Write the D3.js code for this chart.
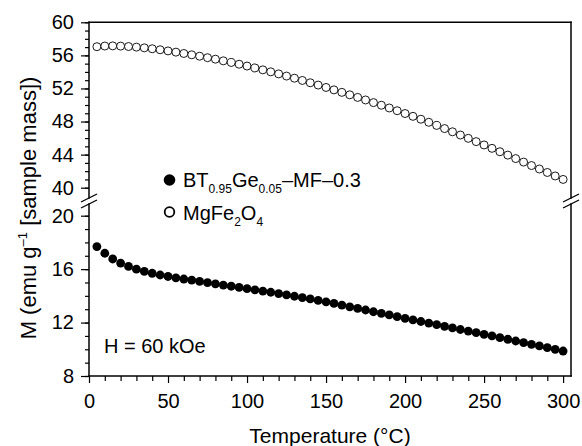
<!DOCTYPE html>
<html>
<head>
<meta charset="utf-8">
<script src="https://cdn.jsdelivr.net/npm/d3@7"></script>
<style>
  body { margin: 0; background: #fff; }
  svg { font-family: Arial, 'Liberation Sans', sans-serif; }
</style>
</head>
<body>
<div id="chart"></div>
<script>
var temperatures = [
  5, 10, 15, 20, 25, 30, 35, 40, 45, 50,
  55, 60, 65, 70, 75, 80, 85, 90, 95, 100,
  105, 110, 115, 120, 125, 130, 135, 140, 145, 150,
  155, 160, 165, 170, 175, 180, 185, 190, 195, 200,
  205, 210, 215, 220, 225, 230, 235, 240, 245, 250,
  255, 260, 265, 270, 275, 280, 285, 290, 295, 300
];

// MgFe2O4, open circles (upper panel)
var mgFe2O4 = [
  57.05, 57.13, 57.15, 57.12, 57.07, 57.0, 56.91, 56.8, 56.68, 56.54,
  56.39, 56.23, 56.07, 55.9, 55.72, 55.54, 55.34, 55.14, 54.93, 54.71,
  54.48, 54.25, 54.01, 53.76, 53.5, 53.24, 52.97, 52.69, 52.41, 52.12,
  51.83, 51.53, 51.23, 50.92, 50.61, 50.29, 49.97, 49.64, 49.31, 48.97,
  48.63, 48.28, 47.91, 47.53, 47.15, 46.76, 46.37, 45.97, 45.57, 45.17,
  44.76, 44.35, 43.94, 43.52, 43.1, 42.68, 42.26, 41.84, 41.42, 41.0
];

// BT0.95Ge0.05-MF-0.3, filled circles (lower panel)
var composite = [
  17.69, 17.19, 16.76, 16.45, 16.2, 16.0, 15.83, 15.69, 15.56, 15.45,
  15.35, 15.26, 15.17, 15.08, 14.99, 14.9, 14.81, 14.72, 14.63, 14.54,
  14.45, 14.36, 14.27, 14.17, 14.07, 13.97, 13.87, 13.77, 13.66, 13.55,
  13.43, 13.3, 13.18, 13.06, 12.94, 12.81, 12.69, 12.57, 12.44, 12.32,
  12.2, 12.08, 11.96, 11.84, 11.72, 11.6, 11.48, 11.36, 11.24, 11.12,
  11.0, 10.87, 10.75, 10.62, 10.5, 10.37, 10.25, 10.12, 10.0, 9.87
];

var xTicks = [0, 50, 100, 150, 200, 250, 300];
var xMinorTicks = [10, 20, 30, 40, 60, 70, 80, 90, 110, 120, 130, 140, 160, 170, 180, 190,
  210, 220, 230, 240, 260, 270, 280, 290];
var upperTicks = [40, 44, 48, 52, 56, 60];
var lowerTicks = [8, 12, 16, 20];

var width = 582;
var height = 446;
// note: "top" is a read-only global in browsers, so use plot* names
var plotLeft = 89, plotRight = 571, plotTop = 22.3, plotBottom = 376;
var breakY = 201;

var svg = d3.select('#chart')
  .append('svg')
  .attr('width', width)
  .attr('height', height);

var x = d3.scaleLinear().domain([0, 305]).range([plotLeft, plotRight]);
var yUpper = d3.scaleLinear().domain([40, 60]).range([187.7, plotTop]);
var yLower = d3.scaleLinear().domain([8, 20]).range([plotBottom, 215.7]);

function minorValues(scale) {
  var dom = scale.domain();
  return d3.range(dom[0], dom[1] + 1, 1);
}

function styleAxis(g) {
  g.select('.domain').remove();
  g.selectAll('line').attr('stroke', '#000').attr('stroke-width', 1.2);
  g.selectAll('text').attr('font-size', 20).attr('fill', '#000')
    .attr('font-family', "Arial, 'Liberation Sans', sans-serif");
}

// minor y ticks
[yUpper, yLower].forEach(function (scale) {
  svg.append('g')
    .attr('transform', 'translate(' + plotLeft + ',0)')
    .call(d3.axisLeft(scale).tickValues(minorValues(scale)).tickFormat('').tickSize(4).tickSizeOuter(0))
    .call(styleAxis);
});

// major y ticks
svg.append('g')
  .attr('transform', 'translate(' + plotLeft + ',0)')
  .call(d3.axisLeft(yUpper).tickValues(upperTicks).tickSize(8).tickPadding(7).tickSizeOuter(0))
  .call(styleAxis);

svg.append('g')
  .attr('transform', 'translate(' + plotLeft + ',0)')
  .call(d3.axisLeft(yLower).tickValues(lowerTicks).tickSize(8).tickPadding(7).tickSizeOuter(0))
  .call(styleAxis);

// x ticks
svg.append('g')
  .attr('transform', 'translate(0,' + plotBottom + ')')
  .call(d3.axisBottom(x).tickValues(xMinorTicks).tickFormat('').tickSize(5).tickSizeOuter(0))
  .call(styleAxis);

svg.append('g')
  .attr('transform', 'translate(0,' + plotBottom + ')')
  .call(d3.axisBottom(x).tickValues(xTicks).tickSize(7).tickPadding(11).tickSizeOuter(0))
  .call(styleAxis);

// frame with broken vertical axes
var frame = [
  [plotLeft, plotTop, plotRight, plotTop],
  [plotLeft, plotBottom, plotRight, plotBottom],
  [plotLeft, plotTop, plotLeft, breakY - 3],
  [plotLeft, breakY + 3, plotLeft, plotBottom],
  [plotRight, plotTop, plotRight, breakY - 3],
  [plotRight, breakY + 3, plotRight, plotBottom]
];
svg.append('g')
  .selectAll('line')
  .data(frame)
  .enter()
  .append('line')
  .attr('x1', function (d) { return d[0]; })
  .attr('y1', function (d) { return d[1]; })
  .attr('x2', function (d) { return d[2]; })
  .attr('y2', function (d) { return d[3]; })
  .attr('stroke', '#000')
  .attr('stroke-width', 1.5)
  .attr('stroke-linecap', 'square');

// break marks
var breaks = [[plotLeft, breakY - 3], [plotLeft, breakY + 3], [plotRight, breakY - 3], [plotRight, breakY + 3]];
svg.append('g')
  .selectAll('line')
  .data(breaks)
  .enter()
  .append('line')
  .attr('x1', function (d) { return d[0] - 8; })
  .attr('y1', function (d) { return d[1] + 4; })
  .attr('x2', function (d) { return d[0] + 8; })
  .attr('y2', function (d) { return d[1] - 4; })
  .attr('stroke', '#000')
  .attr('stroke-width', 1.3);

// data
svg.append('g')
  .selectAll('circle')
  .data(temperatures)
  .enter()
  .append('circle')
  .attr('cx', function (d) { return x(d); })
  .attr('cy', function (d, i) { return yUpper(mgFe2O4[i]); })
  .attr('r', 4)
  .attr('fill', '#fff')
  .attr('stroke', '#000')
  .attr('stroke-width', 0.9);

svg.append('g')
  .selectAll('circle')
  .data(temperatures)
  .enter()
  .append('circle')
  .attr('cx', function (d) { return x(d); })
  .attr('cy', function (d, i) { return yLower(composite[i]); })
  .attr('r', 4.4)
  .attr('fill', '#000');

// legend
svg.append('circle').attr('cx', 169.5).attr('cy', 180).attr('r', 5.8).attr('fill', '#000');
svg.append('circle').attr('cx', 169.5).attr('cy', 212).attr('r', 4.8)
  .attr('fill', '#fff').attr('stroke', '#000').attr('stroke-width', 1.8);

var leg1 = svg.append('text').attr('x', 183).attr('y', 187).attr('font-size', 20);
leg1.append('tspan').text('BT');
leg1.append('tspan').attr('font-size', 12).attr('dy', 6).text('0.95');
leg1.append('tspan').attr('dy', -6).text('Ge');
leg1.append('tspan').attr('font-size', 12).attr('dy', 6).text('0.05');
leg1.append('tspan').attr('dy', -6).text('–MF–0.3');

var leg2 = svg.append('text').attr('x', 183).attr('y', 220).attr('font-size', 20);
leg2.append('tspan').text('MgFe');
leg2.append('tspan').attr('font-size', 12).attr('dy', 6).text('2');
leg2.append('tspan').attr('dy', -6).text('O');
leg2.append('tspan').attr('font-size', 12).attr('dy', 6).text('4');

svg.append('text').attr('x', 104).attr('y', 353).attr('font-size', 20).text('H = 60 kOe');

// axis titles
svg.append('text')
  .attr('x', 330)
  .attr('y', 443)
  .attr('text-anchor', 'middle')
  .attr('font-size', 21)
  .text('Temperature (°C)');

var yTitle = svg.append('text')
  .attr('transform', 'translate(36,208) rotate(-90)')
  .attr('text-anchor', 'middle')
  .attr('font-size', 22);
yTitle.append('tspan').text('M (emu g');
yTitle.append('tspan').attr('font-size', 13).attr('dy', -9).text('–1');
yTitle.append('tspan').attr('dy', 9).text(' [sample mass])');
</script>
</body>
</html>
